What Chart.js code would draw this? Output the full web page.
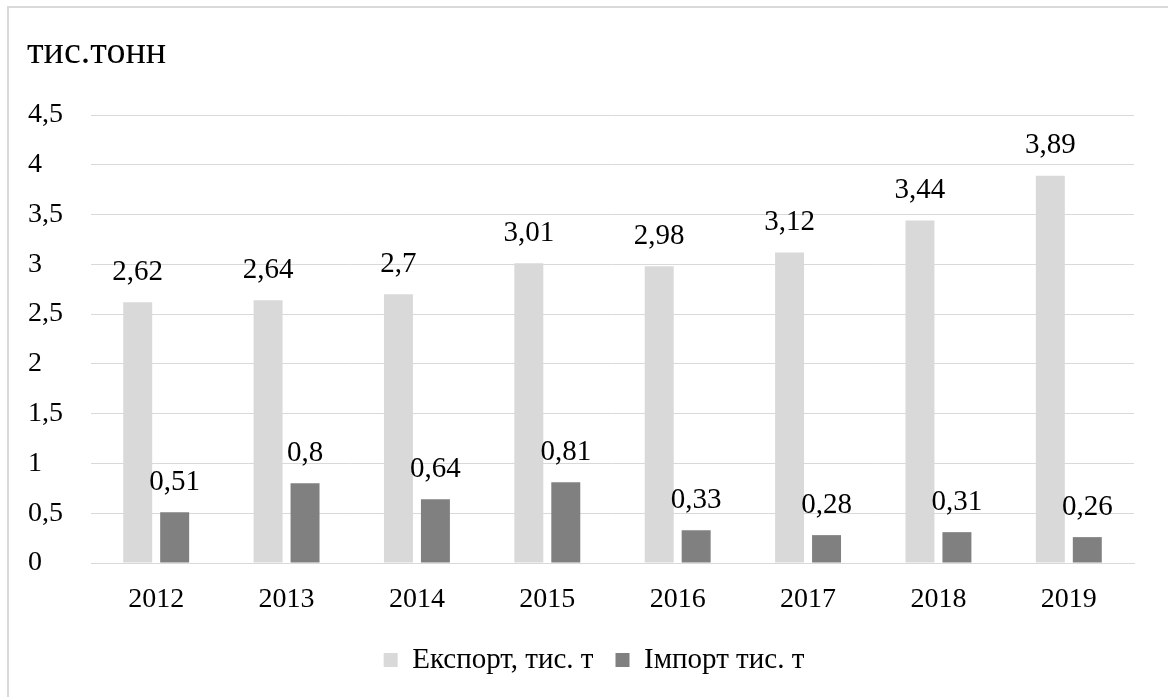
<!DOCTYPE html>
<html>
<head>
<meta charset="utf-8">
<script src="https://cdn.jsdelivr.net/npm/chart.js@4.4.0/dist/chart.umd.min.js"></script>
<style>
  html, body { margin: 0; padding: 0; background: #ffffff; }
  #wrap { position: relative; width: 1168px; height: 697px; }
</style>
</head>
<body>
<div id="wrap"><canvas id="c" width="1168" height="697"></canvas></div>
<script>
const categories = ['2012', '2013', '2014', '2015', '2016', '2017', '2018', '2019'];
const exportValues = [2.62, 2.64, 2.7, 3.01, 2.98, 3.12, 3.44, 3.89];
const importValues = [0.51, 0.8, 0.64, 0.81, 0.33, 0.28, 0.31, 0.26];
const seriesNames = ['Експорт, тис. т', 'Імпорт тис. т'];
const yTicks = [0, 0.5, 1, 1.5, 2, 2.5, 3, 3.5, 4, 4.5];
const unitTitle = 'тис.тонн';

const FONT = "'Liberation Serif', 'Times New Roman', serif";
const fmt = v => String(v).replace('.', ',');

const framePlugin = {
  id: 'frame',
  afterLayout(chart) {
    if (chart.legend) {
      chart.legend.left += 13;
      chart.legend.right += 13;
    }
  },
  beforeDraw(chart) {
    const ctx = chart.ctx;
    ctx.save();
    ctx.fillStyle = '#ffffff';
    ctx.fillRect(0, 0, chart.width, chart.height);
    ctx.fillStyle = '#d9d9d9';
    ctx.fillRect(7, 6, chart.width - 7, 2);
    ctx.fillRect(7, 6, 2, chart.height - 6);
    ctx.fillStyle = '#000000';
    ctx.font = '38px ' + FONT;
    ctx.textBaseline = 'middle';
    ctx.textAlign = 'left';
    ctx.fillText(unitTitle, 27, 53);
    ctx.restore();
  }
};

const labelPlugin = {
  id: 'valueLabels',
  afterDatasetsDraw(chart) {
    const ctx = chart.ctx;
    ctx.save();
    ctx.fillStyle = '#000000';
    ctx.font = '29px ' + FONT;
    ctx.textAlign = 'center';
    ctx.textBaseline = 'middle';
    chart.data.datasets.forEach((ds, i) => {
      const meta = chart.getDatasetMeta(i);
      meta.data.forEach((el, j) => {
        ctx.fillText(fmt(ds.data[j]), el.x, el.y - 30);
      });
    });
    ctx.restore();
  }
};

new Chart(document.getElementById('c'), {
  type: 'bar',
  data: {
    labels: categories,
    datasets: [
      { label: seriesNames[0], data: exportValues, backgroundColor: '#d9d9d9', borderWidth: 0,
        categoryPercentage: 0.567, barPercentage: 0.784 },
      { label: seriesNames[1], data: importValues, backgroundColor: '#808080', borderWidth: 0,
        categoryPercentage: 0.567, barPercentage: 0.784 }
    ]
  },
  options: {
    responsive: false,
    animation: false,
    devicePixelRatio: 1,
    layout: { padding: { left: 28, right: 34, top: 115, bottom: 12.5 } },
    scales: {
      x: {
        grid: { display: false, drawTicks: false },
        border: { display: true, color: '#d9d9d9', width: 1 },
        ticks: { color: '#000', font: { family: FONT, size: 28 }, padding: 20 },
        afterFit(scale) { scale.height = 60.5; }
      },
      y: {
        min: 0, max: 4.5,
        grid: { color: '#d9d9d9', lineWidth: 1, drawTicks: false },
        border: { display: false },
        afterBuildTicks(scale) { scale.ticks = yTicks.map(v => ({ value: v })); },
        ticks: {
          color: '#000', font: { family: FONT, size: 28 }, crossAlign: 'far', padding: 8,
          callback: v => fmt(v)
        },
        afterFit(scale) { scale.width = 63; }
      }
    },
    plugins: {
      legend: {
        position: 'bottom',
        labels: { color: '#000', font: { family: FONT, size: 29 }, boxWidth: 14, boxHeight: 14, padding: 22 }
      },
      tooltip: { enabled: false },
      title: { display: false }
    }
  },
  plugins: [framePlugin, labelPlugin]
});
</script>
</body>
</html>
